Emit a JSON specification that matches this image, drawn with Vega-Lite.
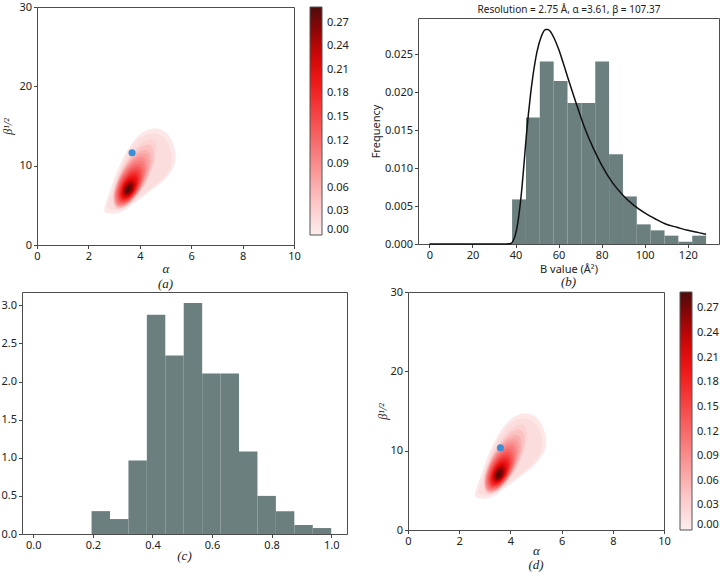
{
  "$schema": "https://vega.github.io/schema/vega-lite/v6.json",
  "padding": 0,
  "background": "white",
  "datasets": {
    "contours": [
      {"lv":0.008,"i":0,"x":2.62,"y":4.35},{"lv":0.008,"i":1,"x":2.70,"y":4.05},{"lv":0.008,"i":2,"x":3.00,"y":3.95},{"lv":0.008,"i":3,"x":3.40,"y":4.35},{"lv":0.008,"i":4,"x":3.75,"y":5.20},{"lv":0.008,"i":5,"x":4.31,"y":6.55},{"lv":0.008,"i":6,"x":4.96,"y":8.25},{"lv":0.008,"i":7,"x":5.32,"y":9.90},{"lv":0.008,"i":8,"x":5.40,"y":11.30},{"lv":0.008,"i":9,"x":5.28,"y":12.90},{"lv":0.008,"i":10,"x":5.05,"y":14.10},{"lv":0.008,"i":11,"x":4.70,"y":14.65},{"lv":0.008,"i":12,"x":4.30,"y":14.50},{"lv":0.008,"i":13,"x":3.92,"y":13.70},{"lv":0.008,"i":14,"x":3.53,"y":12.00},{"lv":0.008,"i":15,"x":3.14,"y":9.50},{"lv":0.008,"i":16,"x":2.82,"y":6.60},{"lv":0.008,"i":17,"x":2.65,"y":5.00},
      {"lv":0.018,"i":0,"x":2.748,"y":4.765},{"lv":0.018,"i":1,"x":2.82,"y":4.495},{"lv":0.018,"i":2,"x":3.09,"y":4.405},{"lv":0.018,"i":3,"x":3.45,"y":4.765},{"lv":0.018,"i":4,"x":3.765,"y":5.53},{"lv":0.018,"i":5,"x":4.269,"y":6.745},{"lv":0.018,"i":6,"x":4.854,"y":8.275},{"lv":0.018,"i":7,"x":5.178,"y":9.76},{"lv":0.018,"i":8,"x":5.25,"y":11.02},{"lv":0.018,"i":9,"x":5.142,"y":12.46},{"lv":0.018,"i":10,"x":4.935,"y":13.54},{"lv":0.018,"i":11,"x":4.62,"y":14.035},{"lv":0.018,"i":12,"x":4.26,"y":13.90},{"lv":0.018,"i":13,"x":3.918,"y":13.18},{"lv":0.018,"i":14,"x":3.567,"y":11.65},{"lv":0.018,"i":15,"x":3.216,"y":9.40},{"lv":0.018,"i":16,"x":2.928,"y":6.79},{"lv":0.018,"i":17,"x":2.775,"y":5.35},
      {"lv":0.03,"i":0,"x":4.513,"y":13.235},{"lv":0.03,"i":1,"x":4.644,"y":11.380},{"lv":0.03,"i":2,"x":4.282,"y":8.073},{"lv":0.03,"i":3,"x":3.637,"y":5.251},{"lv":0.03,"i":4,"x":3.088,"y":4.565},{"lv":0.03,"i":5,"x":2.956,"y":6.420},{"lv":0.03,"i":6,"x":3.318,"y":9.727},{"lv":0.03,"i":7,"x":3.963,"y":12.549},
      {"lv":0.045,"i":0,"x":4.409,"y":12.576},{"lv":0.045,"i":1,"x":4.5405,"y":10.8665},{"lv":0.045,"i":2,"x":4.216,"y":7.8475},{"lv":0.045,"i":3,"x":3.624,"y":5.2875},{"lv":0.045,"i":4,"x":3.1115,"y":4.684},{"lv":0.045,"i":5,"x":2.9795,"y":6.3935},{"lv":0.045,"i":6,"x":3.304,"y":9.4125},{"lv":0.045,"i":7,"x":3.896,"y":11.973},
      {"lv":0.06,"i":0,"x":4.305,"y":11.917},{"lv":0.06,"i":1,"x":4.437,"y":10.353},{"lv":0.06,"i":2,"x":4.150,"y":7.622},{"lv":0.06,"i":3,"x":3.611,"y":5.324},{"lv":0.06,"i":4,"x":3.135,"y":4.803},{"lv":0.06,"i":5,"x":3.003,"y":6.367},{"lv":0.06,"i":6,"x":3.290,"y":9.098},{"lv":0.06,"i":7,"x":3.829,"y":11.397},
      {"lv":0.075,"i":0,"x":4.224,"y":11.459},{"lv":0.075,"i":1,"x":4.3515,"y":10.008},{"lv":0.075,"i":2,"x":4.089,"y":7.4865},{"lv":0.075,"i":3,"x":3.590,"y":5.3715},{"lv":0.075,"i":4,"x":3.146,"y":4.901},{"lv":0.075,"i":5,"x":3.0185,"y":6.352},{"lv":0.075,"i":6,"x":3.281,"y":8.8735},{"lv":0.075,"i":7,"x":3.780,"y":10.989},
      {"lv":0.09,"i":0,"x":4.143,"y":11.001},{"lv":0.09,"i":1,"x":4.266,"y":9.663},{"lv":0.09,"i":2,"x":4.028,"y":7.351},{"lv":0.09,"i":3,"x":3.569,"y":5.419},{"lv":0.09,"i":4,"x":3.157,"y":4.999},{"lv":0.09,"i":5,"x":3.034,"y":6.337},{"lv":0.09,"i":6,"x":3.272,"y":8.649},{"lv":0.09,"i":7,"x":3.731,"y":10.581},
      {"lv":0.105,"i":0,"x":4.0825,"y":10.573},{"lv":0.105,"i":1,"x":4.2065,"y":9.337},{"lv":0.105,"i":2,"x":3.996,"y":7.2305},{"lv":0.105,"i":3,"x":3.574,"y":5.4865},{"lv":0.105,"i":4,"x":3.1875,"y":5.127},{"lv":0.105,"i":5,"x":3.0635,"y":6.363},{"lv":0.105,"i":6,"x":3.274,"y":8.4695},{"lv":0.105,"i":7,"x":3.696,"y":10.2135},
      {"lv":0.12,"i":0,"x":4.022,"y":10.145},{"lv":0.12,"i":1,"x":4.147,"y":9.011},{"lv":0.12,"i":2,"x":3.964,"y":7.110},{"lv":0.12,"i":3,"x":3.579,"y":5.554},{"lv":0.12,"i":4,"x":3.218,"y":5.255},{"lv":0.12,"i":5,"x":3.093,"y":6.389},{"lv":0.12,"i":6,"x":3.276,"y":8.290},{"lv":0.12,"i":7,"x":3.661,"y":9.846},
      {"lv":0.135,"i":0,"x":3.9755,"y":9.823},{"lv":0.135,"i":1,"x":4.093,"y":8.7855},{"lv":0.135,"i":2,"x":3.928,"y":7.054},{"lv":0.135,"i":3,"x":3.5765,"y":5.6425},{"lv":0.135,"i":4,"x":3.2445,"y":5.377},{"lv":0.135,"i":5,"x":3.127,"y":6.4145},{"lv":0.135,"i":6,"x":3.292,"y":8.146},{"lv":0.135,"i":7,"x":3.6435,"y":9.5575},
      {"lv":0.15,"i":0,"x":3.929,"y":9.501},{"lv":0.15,"i":1,"x":4.039,"y":8.560},{"lv":0.15,"i":2,"x":3.892,"y":6.998},{"lv":0.15,"i":3,"x":3.574,"y":5.731},{"lv":0.15,"i":4,"x":3.271,"y":5.499},{"lv":0.15,"i":5,"x":3.161,"y":6.440},{"lv":0.15,"i":6,"x":3.308,"y":8.002},{"lv":0.15,"i":7,"x":3.626,"y":9.269},
      {"lv":0.165,"i":0,"x":3.892,"y":9.2315},{"lv":0.165,"i":1,"x":3.9935,"y":8.3785},{"lv":0.165,"i":2,"x":3.8615,"y":6.9675},{"lv":0.165,"i":3,"x":3.5735,"y":5.8245},{"lv":0.165,"i":4,"x":3.298,"y":5.6185},{"lv":0.165,"i":5,"x":3.197,"y":6.4715},{"lv":0.165,"i":6,"x":3.3285,"y":7.8825},{"lv":0.165,"i":7,"x":3.6165,"y":9.0255},
      {"lv":0.18,"i":0,"x":3.855,"y":8.962},{"lv":0.18,"i":1,"x":3.948,"y":8.197},{"lv":0.18,"i":2,"x":3.831,"y":6.937},{"lv":0.18,"i":3,"x":3.573,"y":5.918},{"lv":0.18,"i":4,"x":3.325,"y":5.738},{"lv":0.18,"i":5,"x":3.233,"y":6.503},{"lv":0.18,"i":6,"x":3.349,"y":7.763},{"lv":0.18,"i":7,"x":3.607,"y":8.782},
      {"lv":0.195,"i":0,"x":3.818,"y":8.7025},{"lv":0.195,"i":1,"x":3.908,"y":8.0155},{"lv":0.195,"i":2,"x":3.8085,"y":6.9015},{"lv":0.195,"i":3,"x":3.5785,"y":6.0115},{"lv":0.195,"i":4,"x":3.352,"y":5.8675},{"lv":0.195,"i":5,"x":3.2625,"y":6.5545},{"lv":0.195,"i":6,"x":3.3615,"y":7.6685},{"lv":0.195,"i":7,"x":3.5915,"y":8.5585},
      {"lv":0.21,"i":0,"x":3.781,"y":8.443},{"lv":0.21,"i":1,"x":3.868,"y":7.834},{"lv":0.21,"i":2,"x":3.786,"y":6.866},{"lv":0.21,"i":3,"x":3.584,"y":6.105},{"lv":0.21,"i":4,"x":3.379,"y":5.997},{"lv":0.21,"i":5,"x":3.292,"y":6.606},{"lv":0.21,"i":6,"x":3.374,"y":7.574},{"lv":0.21,"i":7,"x":3.576,"y":8.335},
      {"lv":0.225,"i":0,"x":3.7485,"y":8.226},{"lv":0.225,"i":1,"x":3.8255,"y":7.6975},{"lv":0.225,"i":2,"x":3.7555,"y":6.86},{"lv":0.225,"i":3,"x":3.580,"y":6.2045},{"lv":0.225,"i":4,"x":3.4015,"y":6.114},{"lv":0.225,"i":5,"x":3.3245,"y":6.6425},{"lv":0.225,"i":6,"x":3.3945,"y":7.48},{"lv":0.225,"i":7,"x":3.570,"y":8.136},
      {"lv":0.24,"i":0,"x":3.716,"y":8.009},{"lv":0.24,"i":1,"x":3.783,"y":7.561},{"lv":0.24,"i":2,"x":3.725,"y":6.854},{"lv":0.24,"i":3,"x":3.576,"y":6.304},{"lv":0.24,"i":4,"x":3.424,"y":6.231},{"lv":0.24,"i":5,"x":3.357,"y":6.679},{"lv":0.24,"i":6,"x":3.415,"y":7.386},{"lv":0.24,"i":7,"x":3.564,"y":7.937},
      {"lv":0.2575,"i":0,"x":3.6835,"y":7.8075},{"lv":0.2575,"i":1,"x":3.7405,"y":7.4395},{"lv":0.2575,"i":2,"x":3.694,"y":6.8635},{"lv":0.2575,"i":3,"x":3.572,"y":6.418},{"lv":0.2575,"i":4,"x":3.4465,"y":6.3625},{"lv":0.2575,"i":5,"x":3.3895,"y":6.7305},{"lv":0.2575,"i":6,"x":3.436,"y":7.3065},{"lv":0.2575,"i":7,"x":3.558,"y":7.7525},
      {"lv":0.275,"i":0,"x":3.651,"y":7.606},{"lv":0.275,"i":1,"x":3.698,"y":7.318},{"lv":0.275,"i":2,"x":3.663,"y":6.873},{"lv":0.275,"i":3,"x":3.568,"y":6.532},{"lv":0.275,"i":4,"x":3.469,"y":6.494},{"lv":0.275,"i":5,"x":3.422,"y":6.782},{"lv":0.275,"i":6,"x":3.457,"y":7.227},{"lv":0.275,"i":7,"x":3.552,"y":7.568},
      {"lv":0.288,"i":0,"x":3.596,"y":7.278},{"lv":0.288,"i":1,"x":3.619,"y":7.134},{"lv":0.288,"i":2,"x":3.602,"y":6.911},{"lv":0.288,"i":3,"x":3.554,"y":6.741},{"lv":0.288,"i":4,"x":3.504,"y":6.722},{"lv":0.288,"i":5,"x":3.481,"y":6.866},{"lv":0.288,"i":6,"x":3.498,"y":7.089},{"lv":0.288,"i":7,"x":3.546,"y":7.259}
    ],
    "bHist": [
      {"x0":38.40,"x1":44.84,"y":0.00588},{"x0":44.84,"x1":51.27,"y":0.01667},{"x0":51.27,"x1":57.71,"y":0.02408},{"x0":57.71,"x1":64.14,"y":0.02149},{"x0":64.14,"x1":70.58,"y":0.0186},{"x0":70.58,"x1":77.02,"y":0.0186},{"x0":77.02,"x1":83.45,"y":0.02408},{"x0":83.45,"x1":89.89,"y":0.01184},{"x0":89.89,"x1":96.32,"y":0.00627},{"x0":96.32,"x1":102.76,"y":0.00259},{"x0":102.76,"x1":109.2,"y":0.0018},{"x0":109.2,"x1":115.63,"y":0.0011},{"x0":115.63,"x1":122.07,"y":0.0003},{"x0":122.07,"x1":128.5,"y":0.0011}
    ],
    "bCurve": [
      {"x":0,"y":0},{"x":30,"y":0},{"x":36,"y":0},{"x":38,"y":0.0001},{"x":39,"y":0.0005},{"x":40,"y":0.0013},{"x":41,"y":0.0027},{"x":42,"y":0.0048},{"x":43,"y":0.0075},{"x":44,"y":0.0108},{"x":45,"y":0.0142},{"x":46,"y":0.0172},{"x":47,"y":0.0198},{"x":48,"y":0.0220},{"x":50,"y":0.0254},{"x":52,"y":0.0274},{"x":54,"y":0.0283},{"x":55,"y":0.0283},{"x":56,"y":0.0281},{"x":58,"y":0.0271},{"x":60,"y":0.0257},{"x":62,"y":0.0240},{"x":65,"y":0.0213},{"x":68,"y":0.0187},{"x":72,"y":0.0154},{"x":76,"y":0.0127},{"x":80,"y":0.0104},{"x":85,"y":0.0081},{"x":90,"y":0.0064},{"x":95,"y":0.0051},{"x":100,"y":0.0041},{"x":105,"y":0.0033},{"x":110,"y":0.0026},{"x":115,"y":0.0022},{"x":120,"y":0.0018},{"x":125,"y":0.0015},{"x":128.5,"y":0.0013}
    ],
    "cHist": [
      {"x0":0.1955,"x1":0.2574,"y":0.30},{"x0":0.2574,"x1":0.3193,"y":0.196},{"x0":0.3193,"x1":0.3811,"y":0.964},{"x0":0.3811,"x1":0.4430,"y":2.878},{"x0":0.4430,"x1":0.5049,"y":2.342},{"x0":0.5049,"x1":0.5668,"y":3.031},{"x0":0.5668,"x1":0.6287,"y":2.106},{"x0":0.6287,"x1":0.6905,"y":2.106},{"x0":0.6905,"x1":0.7524,"y":1.081},{"x0":0.7524,"x1":0.8143,"y":0.50},{"x0":0.8143,"x1":0.8762,"y":0.30},{"x0":0.8762,"x1":0.9381,"y":0.118},{"x0":0.9381,"x1":1.0,"y":0.078}
    ]
  },
  "vconcat": [
    {
      "concat": [
        {
          "hconcat": [
            {
              "width": 1,
              "height": 1,
              "view": {"stroke": null},
              "data": {"values": []},
              "mark": {"type": "point", "opacity": 0},
              "encoding": {}
            },
            {
              "width": 257,
              "height": 238,
              "title": {"text": "(a)", "orient": "bottom", "offset": 2},
              "layer": [
                {
                  "data": {"name": "contours"},
                  "mark": {"type": "line", "interpolate": "cardinal-closed", "filled": true, "strokeWidth": 0},
                  "encoding": {
                    "x": {"field": "x", "type": "quantitative", "scale": {"domain": [0, 10], "nice": false, "zero": false},
                          "axis": {"values": [0, 2, 4, 6, 8, 10], "title": "α", "titleFont": "Liberation Serif", "titleFontStyle": "italic", "titleFontSize": 13, "titlePadding": 1}},
                    "y": {"field": "y", "type": "quantitative", "scale": {"domain": [0, 30], "nice": false, "zero": false},
                          "axis": {"values": [0, 5, 10, 15, 20, 25, 30], "title": "β¹/²", "titleFont": "Liberation Serif", "titleFontStyle": "italic", "titleFontSize": 12, "titlePadding": 4}},
                    "order": {"field": "i", "type": "quantitative"},
                    "detail": {"field": "lv", "type": "quantitative"},
                    "color": {"field": "lv", "type": "quantitative",
                              "scale": {"domain": [0, 0.03, 0.06, 0.09, 0.12, 0.15, 0.18, 0.21, 0.24, 0.27, 0.29], "range": ["#fdeeee", "#fcd2d2", "#fbb0b0", "#f98c8c", "#f76a6a", "#f54848", "#f22626", "#e80c0c", "#b80606", "#7a0606", "#4e0c0c"], "interpolate": "rgb", "nice": false, "zero": false},
                              "legend": {"title": null, "type": "gradient", "direction": "vertical", "orient": "right", "gradientLength": 228, "gradientThickness": 12, "offset": 16, "values": [0, 0.03, 0.06, 0.09, 0.12, 0.15, 0.18, 0.21, 0.24, 0.27], "format": ".2f", "labelFont": "Noto Sans", "labelFontSize": 11, "labelColor": "#222", "labelOffset": 5, "labelOverlap": false, "gradientStrokeColor": "#555", "gradientStrokeWidth": 1}}
                  }
                },
                {
                  "data": {"values": [{"x": 3.70, "y": 11.62}]},
                  "mark": {"type": "point", "filled": true, "size": 50, "color": "#3a8fd6", "opacity": 1},
                  "encoding": {
                    "x": {"field": "x", "type": "quantitative"},
                    "y": {"field": "y", "type": "quantitative"}
                  }
                }
              ]
            }
          ],
          "spacing": -22,
          "resolve": {"scale": {"color": "independent"}, "legend": {"color": "independent"}}
        },
        {
          "vconcat": [
            {
              "width": 301,
              "height": 1,
              "view": {"stroke": null},
              "data": {"values": []},
              "mark": {"type": "point", "opacity": 0},
              "encoding": {}
            },
            {
              "width": 301,
              "height": 226,
              "title": {"text": "(b)", "orient": "bottom", "offset": 1},
              "layer": [
                {
                  "data": {"name": "bHist"},
                  "mark": {"type": "rect", "color": "#6b7f7f"},
                  "encoding": {
                    "x": {"field": "x0", "type": "quantitative", "scale": {"domain": [-5.3, 134.5], "nice": false, "zero": false},
                          "axis": {"values": [0, 20, 40, 60, 80, 100, 120], "title": "B value (Å²)", "titlePadding": 3}},
                    "x2": {"field": "x1"},
                    "y": {"field": "y", "type": "quantitative", "scale": {"domain": [0, 0.0298], "nice": false, "zero": false},
                          "axis": {"values": [0, 0.005, 0.01, 0.015, 0.02, 0.025], "format": ".3f", "title": "Frequency", "titlePadding": 3}},
                    "y2": {"datum": 0}
                  }
                },
                {
                  "data": {"name": "bCurve"},
                  "mark": {"type": "line", "color": "#111111", "strokeWidth": 1.5, "interpolate": "monotone"},
                  "encoding": {
                    "x": {"field": "x", "type": "quantitative",
                          "axis": {"orient": "top", "labels": false, "ticks": false, "domain": false, "title": "Resolution = 2.75 Å, α =3.61, β = 107.37", "titleFontSize": 10, "titlePadding": 4}},
                    "y": {"field": "y", "type": "quantitative"}
                  }
                }
              ],
              "resolve": {"axis": {"x": "independent"}}
            }
          ],
          "spacing": -5
        }
      ],
      "spacing": 19,
      "align": "none",
      "resolve": {"scale": {"color": "independent"}, "legend": {"color": "independent"}}
    },
    {
      "concat": [
        {
          "width": 325,
          "height": 242,
          "title": {"text": "(c)", "orient": "bottom", "offset": -1},
          "data": {"name": "cHist"},
          "mark": {"type": "rect", "color": "#6b7f7f"},
          "encoding": {
            "x": {"field": "x0", "type": "quantitative", "scale": {"domain": [-0.038, 1.053], "nice": false, "zero": false},
                  "axis": {"values": [0, 0.2, 0.4, 0.6, 0.8, 1.0], "format": ".1f", "title": null}},
            "x2": {"field": "x1"},
            "y": {"field": "y", "type": "quantitative", "scale": {"domain": [0, 3.175], "nice": false, "zero": false},
                  "axis": {"values": [0, 0.5, 1, 1.5, 2, 2.5, 3], "format": ".1f", "title": null}},
            "y2": {"datum": 0}
          }
        },
        {
          "width": 256,
          "height": 238,
          "title": {"text": "(d)", "orient": "bottom", "offset": 1},
          "layer": [
            {
              "data": {"name": "contours"},
              "mark": {"type": "line", "interpolate": "cardinal-closed", "filled": true, "strokeWidth": 0},
              "encoding": {
                "x": {"field": "x", "type": "quantitative", "scale": {"domain": [0, 10], "nice": false, "zero": false},
                      "axis": {"values": [0, 2, 4, 6, 8, 10], "title": "α", "titleFont": "Liberation Serif", "titleFontStyle": "italic", "titleFontSize": 13, "titlePadding": -2}},
                "y": {"field": "y", "type": "quantitative", "scale": {"domain": [0, 30], "nice": false, "zero": false},
                      "axis": {"values": [0, 5, 10, 15, 20, 25, 30], "title": "β¹/²", "titleFont": "Liberation Serif", "titleFontStyle": "italic", "titleFontSize": 12, "titlePadding": 0}},
                "order": {"field": "i", "type": "quantitative"},
                "detail": {"field": "lv", "type": "quantitative"},
                "color": {"field": "lv", "type": "quantitative",
                          "scale": {"domain": [0, 0.03, 0.06, 0.09, 0.12, 0.15, 0.18, 0.21, 0.24, 0.27, 0.29], "range": ["#fdeeee", "#fcd2d2", "#fbb0b0", "#f98c8c", "#f76a6a", "#f54848", "#f22626", "#e80c0c", "#b80606", "#7a0606", "#4e0c0c"], "interpolate": "rgb", "nice": false, "zero": false},
                          "legend": {"title": null, "type": "gradient", "direction": "vertical", "orient": "right", "gradientLength": 238, "gradientThickness": 12, "offset": 16, "values": [0, 0.03, 0.06, 0.09, 0.12, 0.15, 0.18, 0.21, 0.24, 0.27], "format": ".2f", "labelFont": "Noto Sans", "labelFontSize": 11, "labelColor": "#222", "labelOffset": 5, "labelOverlap": false, "gradientStrokeColor": "#555", "gradientStrokeWidth": 1}}
              }
            },
            {
              "data": {"values": [{"x": 3.61, "y": 10.36}]},
              "mark": {"type": "point", "filled": true, "size": 50, "color": "#3a8fd6", "opacity": 1},
              "encoding": {
                "x": {"field": "x", "type": "quantitative"},
                "y": {"field": "y", "type": "quantitative"}
              }
            }
          ]
        }
      ],
      "spacing": 28,
      "align": "none",
      "resolve": {"scale": {"color": "independent"}, "legend": {"color": "independent"}}
    }
  ],
  "spacing": -6,
  "resolve": {"scale": {"color": "independent"}, "legend": {"color": "independent"}},
  "config": {
    "font": "Noto Sans",
    "view": {"stroke": "#4d4d4d", "strokeWidth": 1},
    "axis": {"domain": false, "grid": false, "tickSize": 3.5, "tickColor": "#444444", "tickWidth": 1, "labelFont": "Noto Sans", "labelFontSize": 11, "labelColor": "#222222", "labelPadding": 2, "labelFlush": false, "labelOverlap": false, "titleFont": "Noto Sans", "titleFontSize": 11, "titleFontWeight": "normal", "titleColor": "#222222"},
    "legend": {"labelBaseline": "middle"},
    "title": {"font": "Liberation Serif", "fontStyle": "italic", "fontWeight": "normal", "fontSize": 13, "color": "#222222"}
  }
}
